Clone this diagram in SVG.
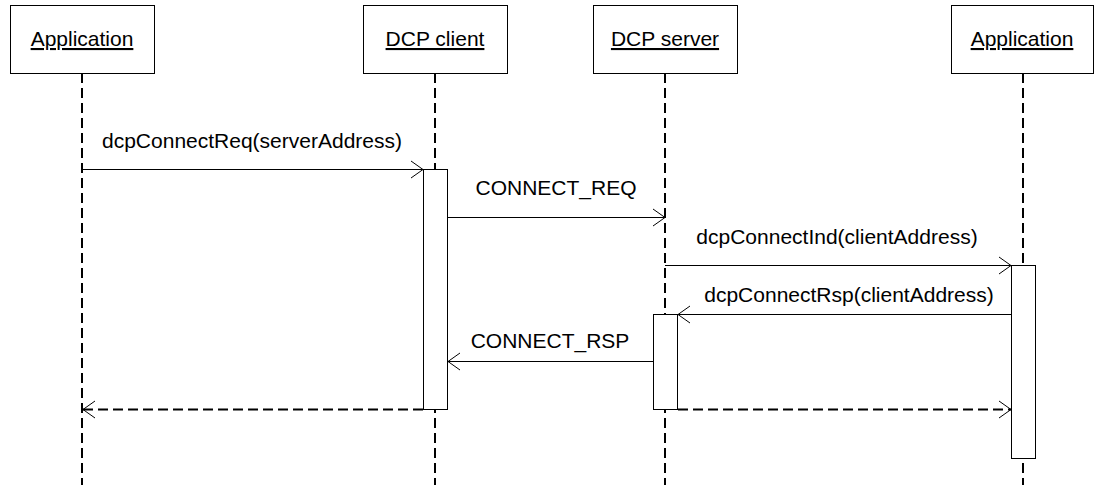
<svg xmlns="http://www.w3.org/2000/svg" width="1095" height="485" viewBox="0 0 1095 485">
<style>
.box{fill:#fff;stroke:#000;stroke-width:1}
.act{fill:#fff;stroke:#000;stroke-width:1}
.hdr{font-family:"Liberation Sans",Arial,sans-serif;font-size:21px;text-anchor:middle;text-decoration:underline;fill:#000}
.lbl{font-family:"Liberation Sans",Arial,sans-serif;font-size:21px;text-anchor:middle;fill:#000}
.life{stroke:#000;stroke-width:2;stroke-dasharray:10,5;fill:none}
.msg{stroke:#000;stroke-width:1;fill:none}
.ret{stroke:#000;stroke-width:2;stroke-dasharray:10,5;fill:none}
.head{stroke:#000;stroke-width:1;fill:none}
</style>
<g id="lifelines">
<line class="life" x1="82" y1="73" x2="82" y2="485"/>
<line class="life" x1="435" y1="73" x2="435" y2="485"/>
<line class="life" x1="665" y1="73" x2="665" y2="485"/>
<line class="life" x1="1023" y1="73" x2="1023" y2="485"/>
</g>
<g id="node-app1">
<rect class="box" x="10.5" y="5.5" width="144" height="68"/>
<text class="hdr" x="82" y="46">Application</text>
</g>
<g id="node-client">
<rect class="box" x="363.5" y="5.5" width="144" height="68"/>
<text class="hdr" x="435" y="46">DCP client</text>
</g>
<g id="node-server">
<rect class="box" x="593.5" y="5.5" width="144" height="68"/>
<text class="hdr" x="665" y="46">DCP server</text>
</g>
<g id="node-app2">
<rect class="box" x="951.5" y="5.5" width="142" height="68"/>
<text class="hdr" x="1022" y="46">Application</text>
</g>
<g id="activations">
<rect class="act" x="423.5" y="169.5" width="24" height="240"/>
<rect class="act" x="653.5" y="314.5" width="24" height="95"/>
<rect class="act" x="1011.5" y="265.5" width="24" height="193"/>
</g>
<g id="connectors">
<line class="msg" x1="82" y1="169.5" x2="423" y2="169.5"/>
<polyline class="head" points="411,161 423,169.5 411,178"/>
<text class="lbl" x="252" y="148">dcpConnectReq(serverAddress)</text>
<line class="msg" x1="448" y1="217.5" x2="665" y2="217.5"/>
<polyline class="head" points="653,209 665,217.5 653,226"/>
<text class="lbl" x="556" y="195">CONNECT_REQ</text>
<line class="msg" x1="665" y1="265.5" x2="1011" y2="265.5"/>
<polyline class="head" points="999,257 1011,265.5 999,274"/>
<text class="lbl" x="837" y="244">dcpConnectInd(clientAddress)</text>
<line class="msg" x1="1011" y1="314.5" x2="678" y2="314.5"/>
<polyline class="head" points="690,306 678,314.5 690,323"/>
<text class="lbl" x="849" y="302">dcpConnectRsp(clientAddress)</text>
<line class="msg" x1="653" y1="361.5" x2="448" y2="361.5"/>
<polyline class="head" points="460,353 448,361.5 460,370"/>
<text class="lbl" x="550" y="348">CONNECT_RSP</text>
<line class="ret" x1="423" y1="409.5" x2="83" y2="409.5"/>
<polyline class="head" points="95,401 83,409.5 95,418"/>
<line class="ret" x1="678" y1="409.5" x2="1011" y2="409.5"/>
<polyline class="head" points="999,401 1011,409.5 999,418"/>
</g>
</svg>
